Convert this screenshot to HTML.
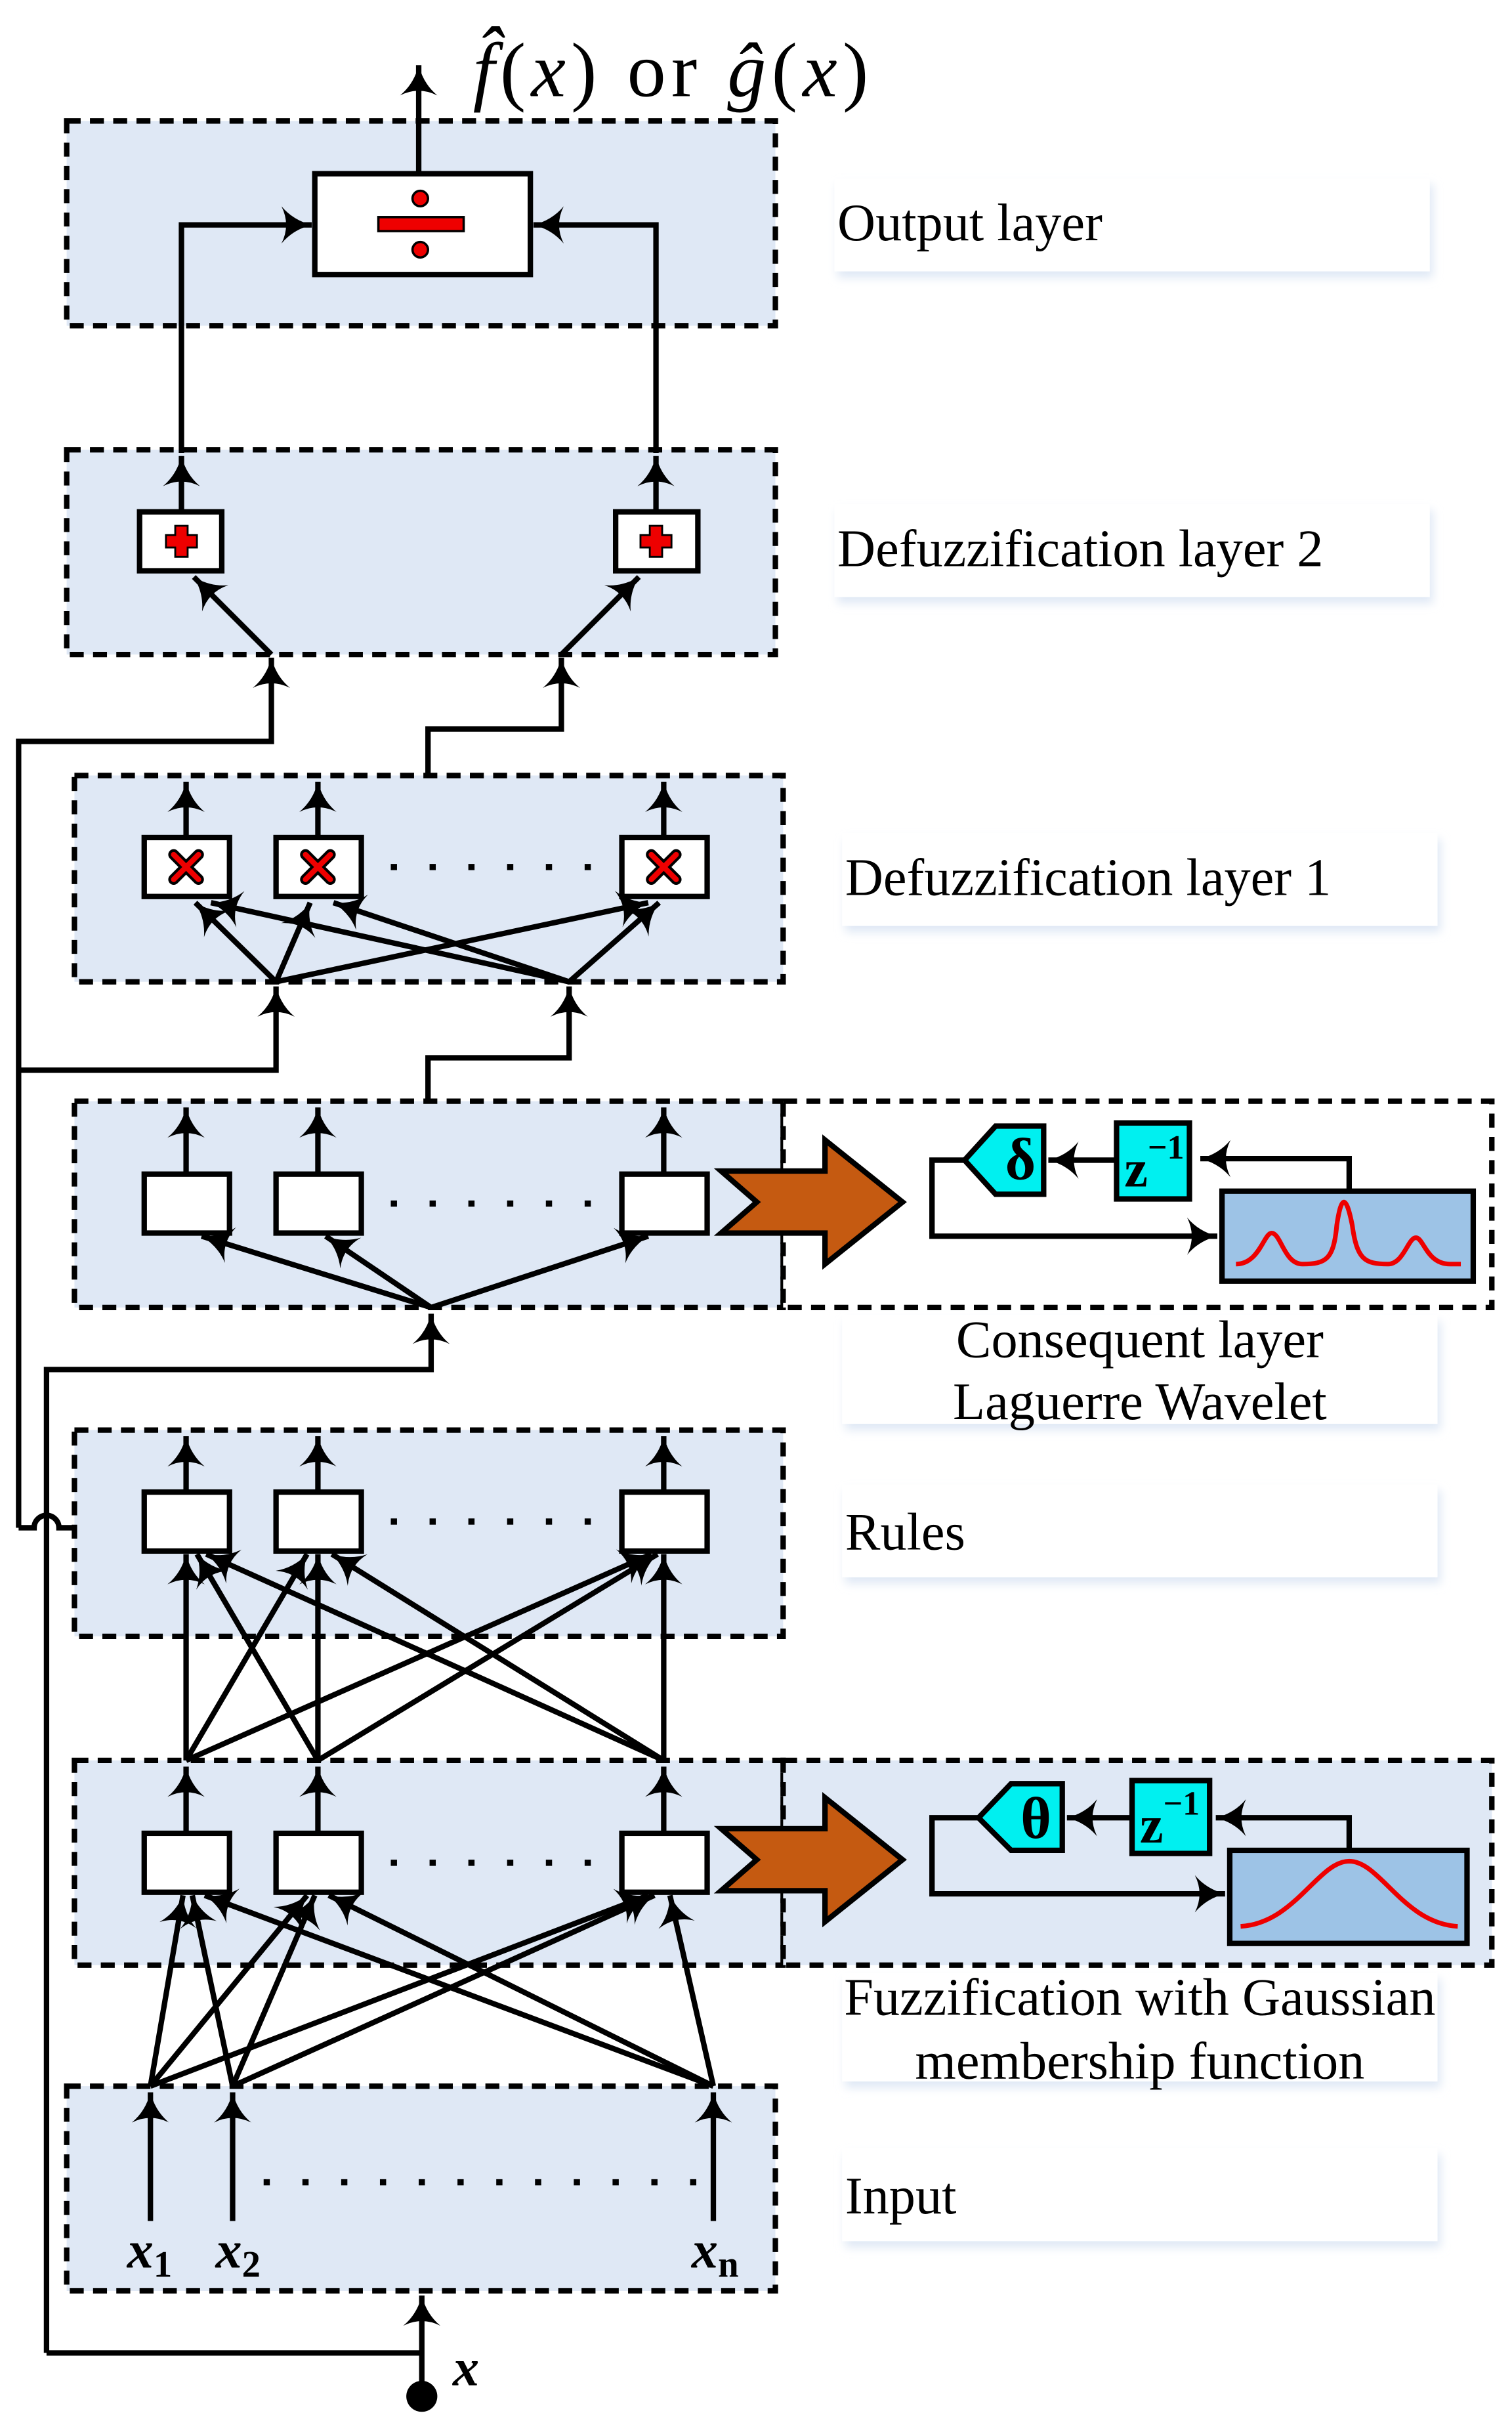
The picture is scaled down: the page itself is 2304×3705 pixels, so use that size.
<!DOCTYPE html>
<html><head><meta charset="utf-8"><style>
html,body{margin:0;padding:0;background:#fff}
svg{display:block}
</style></head><body>
<svg width="2304" height="3705" viewBox="0 0 975 1568" preserveAspectRatio="none" xmlns="http://www.w3.org/2000/svg" font-family="'Liberation Serif', serif">
<defs>
<marker id="a" markerUnits="userSpaceOnUse" markerWidth="30" markerHeight="30" refX="0" refY="0" viewBox="-16 -10 20 20" orient="auto" overflow="visible">
<path d="M0,0 Q-8,-2 -13,-8 Q-9,0 -13,8 Q-8,2 0,0 Z" fill="#000"/>
</marker>
<filter id="sh" x="-10%" y="-10%" width="120%" height="130%"><feGaussianBlur stdDeviation="3"/></filter>
</defs>
<g stroke="#000" stroke-width="3.5" fill="none">
<g fill="#dfe8f5" stroke-dasharray="9,6">
<rect x="43" y="78" width="457" height="132"/>
<rect x="43" y="290" width="457" height="132"/>
<rect x="48" y="500" width="457" height="133"/>
<rect x="48" y="710" width="457" height="133"/>
<rect x="505" y="710" width="457" height="133" fill="#fff"/>
<rect x="48" y="922" width="457" height="133"/>
<rect x="48" y="1135" width="457" height="132"/>
<rect x="505" y="1135" width="457" height="132"/>
<rect x="43" y="1345" width="457" height="132"/>
</g>
</g>
<g fill="#fff">
<g fill="#dfe8f5" filter="url(#sh)">
<rect x="540" y="119" width="384" height="60"/><rect x="540" y="329" width="384" height="60"/>
<rect x="545" y="541" width="384" height="60"/><rect x="545" y="852" width="384" height="70"/>
<rect x="545" y="961" width="384" height="60"/><rect x="545" y="1276" width="384" height="70"/>
<rect x="545" y="1389" width="384" height="60"/>
</g>
<rect x="538" y="115" width="384" height="60"/><rect x="538" y="325" width="384" height="60"/>
<rect x="543" y="537" width="384" height="60"/><rect x="543" y="848" width="384" height="70"/>
<rect x="543" y="957" width="384" height="60"/><rect x="543" y="1272" width="384" height="70"/>
<rect x="543" y="1385" width="384" height="60"/>
</g>
<g font-size="34" fill="#000">
<text x="540" y="155">Output layer</text>
<text x="540" y="365">Defuzzification layer 2</text>
<text x="545" y="577">Defuzzification layer 1</text>
<text x="735" y="875" text-anchor="middle">Consequent layer</text>
<text x="735" y="915" text-anchor="middle">Laguerre Wavelet</text>
<text x="545" y="999">Rules</text>
<text x="735" y="1299" text-anchor="middle">Fuzzification with Gaussian</text>
<text x="735" y="1340" text-anchor="middle">membership function</text>
<text x="545" y="1427">Input</text>
</g>
<text x="305" y="62" font-size="50" font-style="italic" textLength="255" lengthAdjust="spacing">f̂<tspan font-style="normal">(</tspan>x<tspan font-style="normal">) or </tspan>ĝ<tspan font-style="normal">(</tspan>x<tspan font-style="normal">)</tspan></text>
<g stroke="#000" stroke-width="3.5" fill="none">
<rect x="203" y="112" width="139" height="65" fill="#fff"/>
<line x1="270" y1="112" x2="270" y2="42" marker-end="url(#a)"/>
<polyline points="117,292 117,145 201,145" marker-end="url(#a)"/>
<polyline points="423,292 423,145 344,145" marker-end="url(#a)"/>
</g>
<g fill="#e00" stroke="#000" stroke-width="1.5">
<rect x="244" y="140" width="55" height="9"/><circle cx="271" cy="128" r="5"/><circle cx="271" cy="161" r="5"/>
</g>
<g stroke="#000" stroke-width="3.5" fill="none">
<rect x="90" y="330" width="53" height="38" fill="#fff"/>
<rect x="397" y="330" width="53" height="38" fill="#fff"/>
<line x1="117" y1="330" x2="117" y2="294" marker-end="url(#a)"/>
<line x1="423" y1="330" x2="423" y2="294" marker-end="url(#a)"/>
<line x1="175" y1="422" x2="125" y2="372" marker-end="url(#a)"/>
<line x1="362" y1="422" x2="412" y2="372" marker-end="url(#a)"/>
<polyline points="12,985 12,478 175,478 175,424" marker-end="url(#a)"/>
<polyline points="276,500 276,470 362,470 362,424" marker-end="url(#a)"/>
<rect x="93" y="540" width="55" height="38" fill="#fff"/>
<rect x="178" y="540" width="55" height="38" fill="#fff"/>
<rect x="401" y="540" width="55" height="38" fill="#fff"/>
<line x1="120" y1="540" x2="120" y2="504" marker-end="url(#a)"/>
<line x1="205" y1="540" x2="205" y2="504" marker-end="url(#a)"/>
<line x1="428" y1="540" x2="428" y2="504" marker-end="url(#a)"/>
<line x1="178" y1="633" x2="126" y2="582" marker-end="url(#a)"/>
<line x1="178" y1="633" x2="200" y2="582" marker-end="url(#a)"/>
<line x1="178" y1="633" x2="418" y2="582" marker-end="url(#a)"/>
<line x1="367" y1="633" x2="136" y2="582" marker-end="url(#a)"/>
<line x1="367" y1="633" x2="215" y2="582" marker-end="url(#a)"/>
<line x1="367" y1="633" x2="425" y2="582" marker-end="url(#a)"/>
<polyline points="12,690 178,690 178,636" marker-end="url(#a)"/>
<polyline points="276,710 276,682 367,682 367,636" marker-end="url(#a)"/>
<rect x="93" y="757" width="55" height="38" fill="#fff"/>
<rect x="178" y="757" width="55" height="38" fill="#fff"/>
<rect x="401" y="757" width="55" height="38" fill="#fff"/>
<line x1="120" y1="757" x2="120" y2="714" marker-end="url(#a)"/>
<line x1="205" y1="757" x2="205" y2="714" marker-end="url(#a)"/>
<line x1="428" y1="757" x2="428" y2="714" marker-end="url(#a)"/>
<line x1="278" y1="843" x2="130" y2="797" marker-end="url(#a)"/>
<line x1="278" y1="843" x2="210" y2="797" marker-end="url(#a)"/>
<line x1="278" y1="843" x2="418" y2="797" marker-end="url(#a)"/>
<polyline points="30,1517 30,883 278,883 278,847" marker-end="url(#a)"/>
<path d="M12,985 L22,985 A8,8 0 0 1 38,985 L48,985"/>
<rect x="93" y="962" width="55" height="38" fill="#fff"/>
<rect x="178" y="962" width="55" height="38" fill="#fff"/>
<rect x="401" y="962" width="55" height="38" fill="#fff"/>
<line x1="120" y1="962" x2="120" y2="926" marker-end="url(#a)"/>
<line x1="205" y1="962" x2="205" y2="926" marker-end="url(#a)"/>
<line x1="428" y1="962" x2="428" y2="926" marker-end="url(#a)"/>
<line x1="120" y1="1135" x2="120" y2="1002" marker-end="url(#a)"/>
<line x1="120" y1="1135" x2="198" y2="1002" marker-end="url(#a)"/>
<line x1="120" y1="1135" x2="420" y2="1002" marker-end="url(#a)"/>
<line x1="205" y1="1135" x2="127" y2="1002" marker-end="url(#a)"/>
<line x1="205" y1="1135" x2="205" y2="1002" marker-end="url(#a)"/>
<line x1="205" y1="1135" x2="424" y2="1002" marker-end="url(#a)"/>
<line x1="428" y1="1135" x2="133" y2="1002" marker-end="url(#a)"/>
<line x1="428" y1="1135" x2="214" y2="1002" marker-end="url(#a)"/>
<line x1="428" y1="1135" x2="428" y2="1002" marker-end="url(#a)"/>
<rect x="93" y="1182" width="55" height="38" fill="#fff"/>
<rect x="178" y="1182" width="55" height="38" fill="#fff"/>
<rect x="401" y="1182" width="55" height="38" fill="#fff"/>
<line x1="120" y1="1182" x2="120" y2="1139" marker-end="url(#a)"/>
<line x1="205" y1="1182" x2="205" y2="1139" marker-end="url(#a)"/>
<line x1="428" y1="1182" x2="428" y2="1139" marker-end="url(#a)"/>
<line x1="97" y1="1345" x2="118" y2="1222" marker-end="url(#a)"/>
<line x1="97" y1="1345" x2="198" y2="1222" marker-end="url(#a)"/>
<line x1="97" y1="1345" x2="418" y2="1222" marker-end="url(#a)"/>
<line x1="150" y1="1345" x2="124" y2="1222" marker-end="url(#a)"/>
<line x1="150" y1="1345" x2="203" y2="1222" marker-end="url(#a)"/>
<line x1="150" y1="1345" x2="422" y2="1222" marker-end="url(#a)"/>
<line x1="460" y1="1345" x2="132" y2="1222" marker-end="url(#a)"/>
<line x1="460" y1="1345" x2="212" y2="1222" marker-end="url(#a)"/>
<line x1="460" y1="1345" x2="432" y2="1222" marker-end="url(#a)"/>
<line x1="97" y1="1432" x2="97" y2="1349" marker-end="url(#a)"/>
<line x1="150" y1="1432" x2="150" y2="1349" marker-end="url(#a)"/>
<line x1="460" y1="1432" x2="460" y2="1349" marker-end="url(#a)"/>
<polyline points="30,1517 272,1517"/>
<line x1="272" y1="1545" x2="272" y2="1480" marker-end="url(#a)"/>
</g>
<circle cx="272" cy="1545" r="10" fill="#000"/>
<text x="292" y="1538" font-size="34" font-style="italic" font-weight="bold">x</text>
<g font-size="34" font-style="italic" font-weight="bold">
<text x="82" y="1462">x<tspan font-size="24" font-style="normal" dy="6">1</tspan></text>
<text x="139" y="1462">x<tspan font-size="24" font-style="normal" dy="6">2</tspan></text>
<text x="446" y="1462">x<tspan font-size="24" font-style="normal" dy="6">n</tspan></text>
</g>
<g fill="#000">
<g id="dr"><rect x="252" y="557" width="4" height="4"/><rect x="277" y="557" width="4" height="4"/><rect x="302" y="557" width="4" height="4"/><rect x="327" y="557" width="4" height="4"/><rect x="352" y="557" width="4" height="4"/><rect x="377" y="557" width="4" height="4"/></g>
<use href="#dr" y="217"/><use href="#dr" y="422"/><use href="#dr" y="642"/>
<g><rect x="170" y="1405" width="4" height="4"/><rect x="195" y="1405" width="4" height="4"/><rect x="220" y="1405" width="4" height="4"/><rect x="245" y="1405" width="4" height="4"/><rect x="270" y="1405" width="4" height="4"/><rect x="295" y="1405" width="4" height="4"/><rect x="320" y="1405" width="4" height="4"/><rect x="345" y="1405" width="4" height="4"/><rect x="370" y="1405" width="4" height="4"/><rect x="395" y="1405" width="4" height="4"/><rect x="420" y="1405" width="4" height="4"/><rect x="445" y="1405" width="4" height="4"/></g>
</g>
<g fill="#e00" stroke="#000" stroke-width="1.2">
<path d="M113,339 h8 v6 h6 v8 h-6 v6 h-8 v-6 h-6 v-8 h6z"/>
<path d="M419,339 h8 v6 h6 v8 h-6 v6 h-8 v-6 h-6 v-8 h6z"/>
</g>
<g stroke="#000" stroke-width="7" stroke-linecap="round"><path id="xx" d="M112,551 l16,16 M128,551 l-16,16"/><use href="#xx" x="85"/><use href="#xx" x="308"/></g>
<g stroke="#e00" stroke-width="3.5" stroke-linecap="round"><path id="xr" d="M112,551 l16,16 M128,551 l-16,16"/><use href="#xr" x="85"/><use href="#xr" x="308"/></g>
<path d="M465,755 L532,755 L532,735 L582,775 L532,815 L532,795 L465,795 L488,775 Z" fill="#c55a11" stroke="#000" stroke-width="3.5"/>
<path d="M465,1179 L532,1179 L532,1159 L582,1199 L532,1239 L532,1219 L465,1219 L488,1199 Z" fill="#c55a11" stroke="#000" stroke-width="3.5"/>
<g stroke="#000" stroke-width="3.5" fill="none">
<polyline points="870,768 870,747 774,747" marker-end="url(#a)"/>
<line x1="720" y1="748" x2="676" y2="748" marker-end="url(#a)"/>
<polyline points="622,748 601,748 601,797 785,797" marker-end="url(#a)"/>
<path d="M673,726 L642,726 L622,748 L642,770 L673,770 Z" fill="#00f0f0"/>
<rect x="720" y="724" width="47" height="49" fill="#00f0f0"/>
<rect x="788" y="768" width="162" height="58" fill="#9dc3e6"/>
<path d="M797,815 C812,815 815,795 820,795 C826,795 828,815 840,815 C855,815 860,812 862,790 C865,770 868,770 872,790 C875,812 880,815 895,815 C905,815 908,798 913,798 C918,798 920,815 935,815 L942,815" stroke="#e00" stroke-width="3"/>
<polyline points="870,1193 870,1172 784,1172" marker-end="url(#a)"/>
<line x1="730" y1="1172" x2="688" y2="1172" marker-end="url(#a)"/>
<polyline points="633,1172 601,1172 601,1221 790,1221" marker-end="url(#a)"/>
<path d="M685,1150 L652,1150 L631,1172 L652,1193 L685,1193 Z" fill="#00f0f0"/>
<rect x="730" y="1148" width="50" height="47" fill="#00f0f0"/>
<rect x="793" y="1193" width="153" height="60" fill="#9dc3e6"/>
<path d="M800,1242 C835,1240 850,1200 870,1200 C890,1200 905,1240 940,1242" stroke="#e00" stroke-width="3"/>
</g>
<g font-size="38" font-weight="bold" fill="#000">
<text x="658" y="760" text-anchor="middle">δ</text>
<text x="668" y="1185" text-anchor="middle">θ</text>
<text x="725" y="765" font-size="34">z<tspan font-size="22" dy="-18">−1</tspan></text>
<text x="735" y="1188" font-size="34">z<tspan font-size="22" dy="-18">−1</tspan></text>
</g>
</svg>
</body></html>
